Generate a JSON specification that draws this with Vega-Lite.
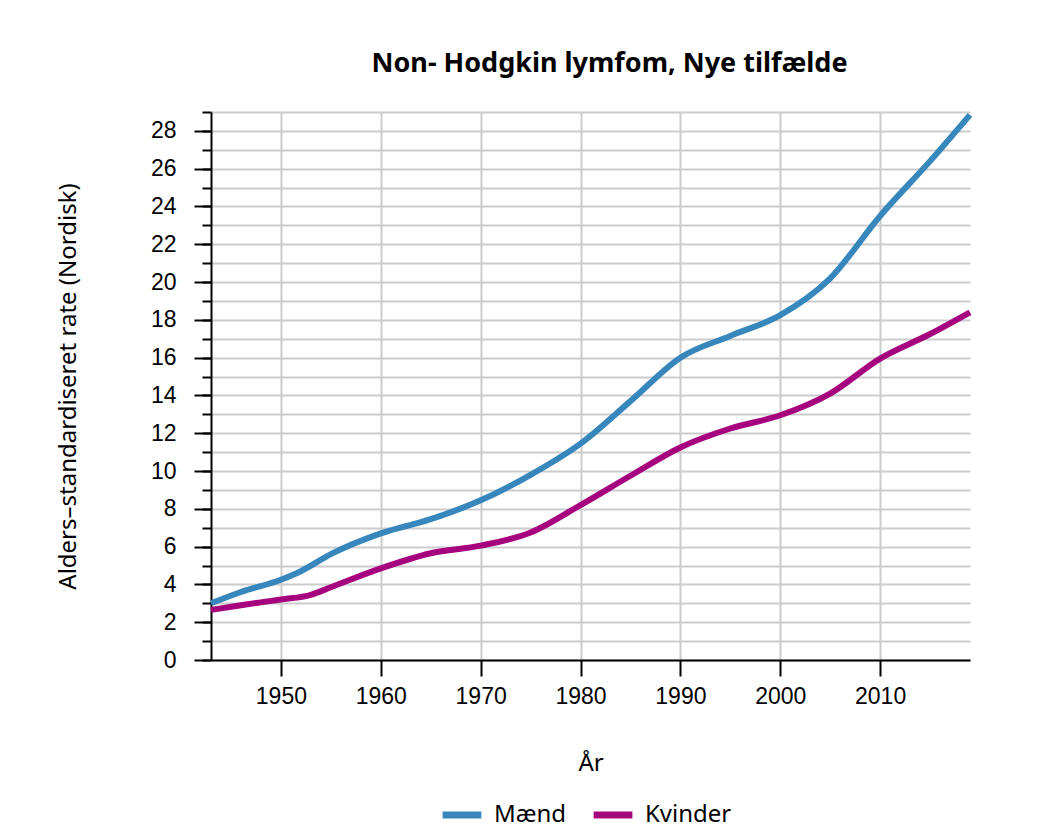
{
  "$schema": "https://vega.github.io/schema/vega-lite/v6.json",
  "width": 759,
  "height": 548,
  "autosize": "none",
  "padding": {"left": 211, "top": 112, "right": 72, "bottom": 176},
  "background": "white",
  "config": {
    "view": {"stroke": null},
    "axis": {"grid": false}
  },
  "title": {
    "text": "Non- Hodgkin lymfom, Nye tilfælde",
    "font": "Noto Sans",
    "fontSize": 27,
    "fontWeight": "bold",
    "color": "#000000",
    "anchor": "middle",
    "dx": 19,
    "offset": 25
  },
  "data": {
    "values": [
      {"year": 1943, "sex": "Mænd", "rate": 3.0},
      {"year": 1946, "sex": "Mænd", "rate": 3.6},
      {"year": 1950, "sex": "Mænd", "rate": 4.25},
      {"year": 1952, "sex": "Mænd", "rate": 4.7},
      {"year": 1955, "sex": "Mænd", "rate": 5.6},
      {"year": 1960, "sex": "Mænd", "rate": 6.7},
      {"year": 1965, "sex": "Mænd", "rate": 7.45},
      {"year": 1970, "sex": "Mænd", "rate": 8.45},
      {"year": 1975, "sex": "Mænd", "rate": 9.8},
      {"year": 1980, "sex": "Mænd", "rate": 11.45},
      {"year": 1985, "sex": "Mænd", "rate": 13.7},
      {"year": 1990, "sex": "Mænd", "rate": 16.0},
      {"year": 1995, "sex": "Mænd", "rate": 17.15},
      {"year": 2000, "sex": "Mænd", "rate": 18.25},
      {"year": 2005, "sex": "Mænd", "rate": 20.2},
      {"year": 2010, "sex": "Mænd", "rate": 23.5},
      {"year": 2015, "sex": "Mænd", "rate": 26.4},
      {"year": 2019, "sex": "Mænd", "rate": 28.85},
      {"year": 1943, "sex": "Kvinder", "rate": 2.65},
      {"year": 1946, "sex": "Kvinder", "rate": 2.9},
      {"year": 1950, "sex": "Kvinder", "rate": 3.2},
      {"year": 1953, "sex": "Kvinder", "rate": 3.45},
      {"year": 1955, "sex": "Kvinder", "rate": 3.85},
      {"year": 1960, "sex": "Kvinder", "rate": 4.85},
      {"year": 1965, "sex": "Kvinder", "rate": 5.65},
      {"year": 1970, "sex": "Kvinder", "rate": 6.05},
      {"year": 1975, "sex": "Kvinder", "rate": 6.75},
      {"year": 1980, "sex": "Kvinder", "rate": 8.2},
      {"year": 1985, "sex": "Kvinder", "rate": 9.75},
      {"year": 1990, "sex": "Kvinder", "rate": 11.25},
      {"year": 1995, "sex": "Kvinder", "rate": 12.25},
      {"year": 2000, "sex": "Kvinder", "rate": 12.95},
      {"year": 2005, "sex": "Kvinder", "rate": 14.1},
      {"year": 2010, "sex": "Kvinder", "rate": 15.95},
      {"year": 2015, "sex": "Kvinder", "rate": 17.25},
      {"year": 2019, "sex": "Kvinder", "rate": 18.4}
    ]
  },
  "layer": [
    {
      "mark": {"type": "rule", "opacity": 0},
      "encoding": {
        "y": {
          "field": "rate",
          "type": "quantitative",
          "scale": {"domain": [0, 29], "nice": false},
          "axis": {
            "orient": "left",
            "values": [0, 1, 2, 3, 4, 5, 6, 7, 8, 9, 10, 11, 12, 13, 14, 15, 16, 17, 18, 19, 20, 21, 22, 23, 24, 25, 26, 27, 28, 29],
            "grid": true,
            "gridColor": "#cccccc",
            "gridWidth": 2,
            "domain": false,
            "labels": false,
            "tickColor": "#000000",
            "tickWidth": 2,
            "tickSize": 9,
            "title": null,
            "zindex": 0
          }
        }
      }
    },
    {
      "mark": {"type": "line", "strokeWidth": 6, "interpolate": "monotone", "clip": false},
      "encoding": {
        "x": {
          "field": "year",
          "type": "quantitative",
          "scale": {"domain": [1943, 2019], "nice": false, "zero": false},
          "axis": {
            "values": [1950, 1960, 1970, 1980, 1990, 2000, 2010],
            "format": "d",
            "grid": true,
            "gridColor": "#cccccc",
            "gridWidth": 2,
            "domainColor": "#000000",
            "domainWidth": 2,
            "tickColor": "#000000",
            "tickWidth": 2,
            "tickSize": 16,
            "labelFont": "Liberation Sans",
            "labelFontSize": 23,
            "labelColor": "#000000",
            "labelPadding": 9,
            "title": "År",
            "titleFont": "Noto Sans",
            "titleFontSize": 24,
            "titleFontWeight": "normal",
            "titleColor": "#000000",
            "titlePadding": 43
          }
        },
        "y": {
          "field": "rate",
          "type": "quantitative",
          "scale": {"domain": [0, 29], "nice": false},
          "axis": {
            "orient": "left",
            "values": [0, 2, 4, 6, 8, 10, 12, 14, 16, 18, 20, 22, 24, 26, 28],
            "grid": false,
            "domainColor": "#000000",
            "domainWidth": 2,
            "tickColor": "#000000",
            "tickWidth": 2,
            "tickSize": 17,
            "labelFont": "Liberation Sans",
            "labelFontSize": 23,
            "labelColor": "#000000",
            "labelPadding": 18,
            "title": "Alders–standardiseret rate (Nordisk)",
            "titleFont": "Noto Sans",
            "titleFontSize": 24,
            "titleFontWeight": "normal",
            "titleColor": "#000000",
            "titlePadding": 70
          }
        },
        "color": {
          "field": "sex",
          "type": "nominal",
          "sort": ["Mænd", "Kvinder"],
          "scale": {"domain": ["Mænd", "Kvinder"], "range": ["#3787bd", "#a6037f"]},
          "legend": {
            "orient": "none",
            "legendX": 228,
            "legendY": 680,
            "direction": "horizontal",
            "title": null,
            "symbolType": "stroke",
            "symbolSize": 1500,
            "symbolStrokeWidth": 7,
            "labelFont": "Noto Sans",
            "labelFontSize": 24,
            "labelColor": "#000000",
            "labelOffset": 9,
            "columnPadding": 12
          }
        }
      }
    }
  ],
  "resolve": {"axis": {"y": "independent"}}
}
